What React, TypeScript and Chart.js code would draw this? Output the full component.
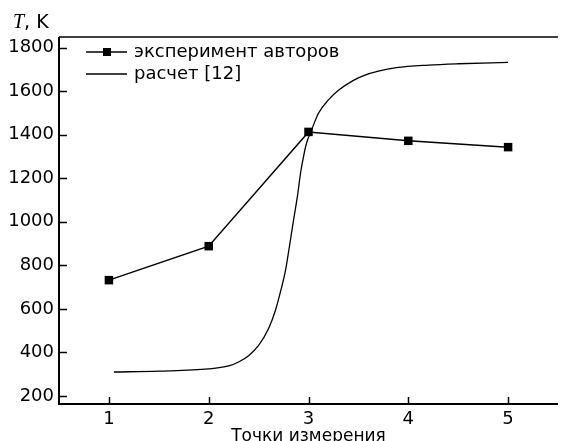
import React, { useEffect, useRef } from "react";
import { Chart, registerables } from "chart.js";

Chart.register(...registerables);

const measurePoints = [1, 2, 3, 4, 5];
const experimentT = [732, 888, 1413, 1372, 1343];

const calcX = [1.05, 1.5, 2.0, 2.2, 2.3, 2.4, 2.5, 2.6, 2.67, 2.72, 2.77, 2.81, 2.85, 2.89, 2.92, 2.95, 2.98, 3.03, 3.1, 3.2, 3.3, 3.45, 3.56, 3.7, 3.88, 4.2, 4.5, 5.0];
const calcT = [310, 314, 324, 338, 356, 385, 432, 510, 595, 680, 778, 890, 1008, 1120, 1223, 1300, 1361, 1421, 1499, 1560, 1604, 1650, 1673, 1692, 1708, 1720, 1726, 1732];

const yTicks = [200, 400, 600, 800, 1000, 1200, 1400, 1600, 1800];
const xTicks = [1, 2, 3, 4, 5];

const legendLabels = ["эксперимент авторов", "расчет [12]"];
const xTitle = "Точки измерения";

const FONT = "'DejaVu Sans', 'Liberation Sans', Arial, sans-serif";

export default function App() {
  const ref = useRef<HTMLCanvasElement | null>(null);

  useEffect(() => {
    if (!ref.current) return;

    const decor = {
      id: "decor",
      afterDraw(chart: any) {
        const ctx = chart.ctx as CanvasRenderingContext2D;
        const { left, right, top, bottom } = chart.chartArea;
        const xs = chart.scales.x;
        const ys = chart.scales.y;
        ctx.save();
        ctx.strokeStyle = "#000";
        // top border
        ctx.lineWidth = 1.5;
        ctx.beginPath();
        ctx.moveTo(left, top);
        ctx.lineTo(right, top);
        ctx.stroke();
        // left & bottom axes
        ctx.lineWidth = 2;
        ctx.beginPath();
        ctx.moveTo(left, top);
        ctx.lineTo(left, bottom);
        ctx.lineTo(right, bottom);
        ctx.stroke();
        // inward ticks
        ctx.lineWidth = 1.5;
        ctx.beginPath();
        yTicks.forEach((v) => {
          const y = Math.round(ys.getPixelForValue(v)) + 0.5;
          ctx.moveTo(left, y);
          ctx.lineTo(left + 8, y);
        });
        xTicks.forEach((v) => {
          const x = Math.round(xs.getPixelForValue(v)) + 0.5;
          ctx.moveTo(x, bottom);
          ctx.lineTo(x, bottom - 7);
        });
        ctx.stroke();

        // legend
        const lx0 = 86, lx1 = 127, tx = 134;
        const rows = [52, 74];
        ctx.lineWidth = 1.5;
        ctx.beginPath();
        ctx.moveTo(lx0, rows[0]);
        ctx.lineTo(lx1, rows[0]);
        ctx.stroke();
        ctx.fillStyle = "#000";
        ctx.fillRect(103, rows[0] - 4, 8, 8);
        ctx.lineWidth = 1.3;
        ctx.beginPath();
        ctx.moveTo(lx0, rows[1]);
        ctx.lineTo(lx1, rows[1]);
        ctx.stroke();
        ctx.font = `18px ${FONT}`;
        ctx.textBaseline = "middle";
        ctx.textAlign = "left";
        ctx.fillText(legendLabels[0], tx, rows[0]);
        ctx.fillText(legendLabels[1], tx, rows[1]);

        // axis title T, K
        ctx.textBaseline = "alphabetic";
        ctx.font = `italic 20px 'Liberation Serif', 'Times New Roman', serif`;
        ctx.fillText("T", 13, 28);
        const w = ctx.measureText("T").width;
        ctx.font = `19px ${FONT}`;
        ctx.fillText(", K", 13 + w, 28);
        ctx.restore();
      },
    };

    const chart = new Chart(ref.current, {
      type: "line",
      data: {
        datasets: [
          {
            label: legendLabels[0],
            data: measurePoints.map((x, i) => ({ x, y: experimentT[i] })),
            borderColor: "#000",
            backgroundColor: "#000",
            borderWidth: 1.5,
            pointStyle: "rect",
            pointRadius: 6,
            pointBorderWidth: 0,
            pointBackgroundColor: "#000",
            tension: 0,
          },
          {
            label: legendLabels[1],
            data: calcX.map((x, i) => ({ x, y: calcT[i] })),
            borderColor: "#000",
            borderWidth: 1.3,
            pointRadius: 0,
            cubicInterpolationMode: "monotone",
          },
        ],
      },
      options: {
        responsive: false,
        animation: false,
        events: [],
        layout: { padding: { left: 0, right: 0, top: 37, bottom: 0 } },
        plugins: {
          legend: { display: false },
          tooltip: { enabled: false },
        },
        scales: {
          x: {
            type: "linear",
            min: 0.5,
            max: 5.5,
            afterFit: (s: any) => {
              s.height = 37;
            },
            afterBuildTicks: (s: any) => {
              s.ticks = xTicks.map((v) => ({ value: v }));
            },
            grid: { display: false, drawTicks: false },
            border: { display: false },
            ticks: {
              color: "#000",
              font: { family: FONT, size: 18 },
              padding: 5,
              autoSkip: false,
              maxRotation: 0,
              callback: (v: any) => String(v),
            },
            title: {
              display: true,
              text: xTitle,
              color: "#000",
              font: { family: FONT, size: 17 },
              padding: { top: 0, bottom: -6 },
            },
          },
          y: {
            type: "linear",
            min: 163,
            max: 1849,
            afterFit: (s: any) => {
              s.width = 59;
            },
            afterBuildTicks: (s: any) => {
              s.ticks = yTicks.map((v) => ({ value: v }));
            },
            grid: { display: false, drawTicks: false },
            border: { display: false },
            ticks: {
              color: "#000",
              font: { family: FONT, size: 18 },
              padding: 5,
              autoSkip: false,
              callback: (v: any) => String(v),
            },
          },
        },
      },
      plugins: [decor],
    });

    return () => chart.destroy();
  }, []);

  return (
    <div
      style={{
        position: "fixed",
        left: 0,
        top: 0,
        width: 561,
        height: 441,
        overflow: "hidden",
        background: "#fff",
      }}
    >
      <canvas ref={ref} width={564} height={441} style={{ display: "block", width: 564, height: 441 }} />
    </div>
  );
}
